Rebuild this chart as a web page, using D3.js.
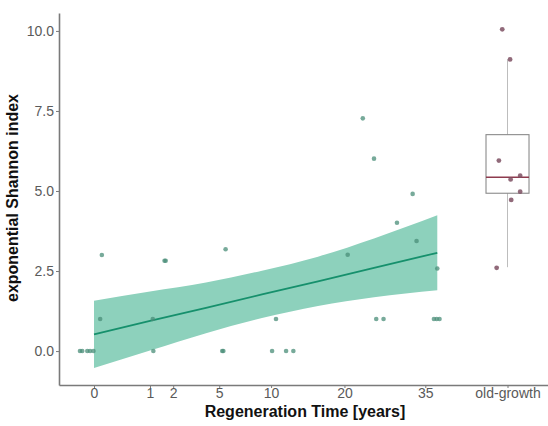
<!DOCTYPE html>
<html lang="en">
  <head>
    <meta charset="UTF-8" />
    <title>Shannon index vs regeneration time</title>
    <script src="https://d3js.org/d3.v7.min.js"></script>
    <style>
      body {
        margin: 0;
        background: #fff;
      }
      svg {
        font-family: "Liberation Sans", Arial, sans-serif;
      }
      .axis path,
      .axis line {
        stroke: #7a7a7a;
      }
      .axis path {
        stroke-width: 1.6px;
      }
      .axis text {
        fill: #5a5a5a;
        font-size: 14px;
      }
      .title {
        font-weight: bold;
        font-size: 16px;
        fill: #111;
      }
    </style>
  </head>
  <body>
    <svg id="chart" width="548" height="426"></svg>
    <script>
      // x positions are on the sqrt(years) axis (points are jittered)
      const regenX = [
        -0.25, -0.21, -0.12, -0.07, -0.01, 0.14, 0.11, 1.05, 1.06, 1.26, 1.28,
        2.29, 2.31, 2.35, 3.18, 3.25, 3.43, 3.56, 4.53, 4.8, 5.0, 5.04, 5.17,
        5.41, 5.69, 5.76, 6.13, 6.07, 6.12, 6.17,
      ];
      const regenY = [
        0, 0, 0, 0, 0, 3.0, 1.0, 1.0, 0, 2.82, 2.82, 0, 0, 3.18, 0, 1.0, 0, 0,
        3.01, 7.27, 6.01, 1.0, 1.0, 4.01, 4.91, 3.44, 2.58, 1.0, 1.0, 1.0,
      ];

      // old-growth plots
      const oldX = [7.29, 7.43, 7.23, 7.61, 7.44, 7.61, 7.45, 7.19];
      const oldY = [10.05, 9.11, 5.95, 5.48, 5.36, 4.98, 4.72, 2.6];
      const oldPos = 7.384;
      const oldBox = { lower: 2.62, q1: 4.93, median: 5.43, q3: 6.76, upper: 9.11 };

      // fitted line and confidence band
      const fitX = [0, 1, 2, 3, 4, 5, 6.13];
      const fitY = [0.52, 0.94, 1.35, 1.77, 2.18, 2.6, 3.07];
      const fitLo = [-0.53, 0.02, 0.56, 1.03, 1.41, 1.68, 1.9];
      const fitHi = [1.57, 1.86, 2.14, 2.51, 2.95, 3.52, 4.24];

      const yearTicks = [0, 1, 2, 5, 10, 20, 35];
      const yTicks = [0, 2.5, 5, 7.5, 10];

      const svg = d3.select("#chart");
      const mLeft = 59,
        mRight = 548,
        mTop = 13,
        mBottom = 385;

      const x = d3.scaleLinear().domain([-0.625, 8.107]).range([mLeft, mRight]);
      const y = d3.scaleLinear().domain([-1.06, 10.56]).range([mBottom, mTop]);

      // band + line
      const band = fitX.map((d, i) => ({ x: d, lo: fitLo[i], hi: fitHi[i], y: fitY[i] }));
      svg
        .append("path")
        .datum(band)
        .attr("fill", "#8dd1bc")
        .attr(
          "d",
          d3
            .area()
            .curve(d3.curveMonotoneX)
            .x((d) => x(d.x))
            .y0((d) => y(d.lo))
            .y1((d) => y(d.hi))
        );
      svg
        .append("path")
        .datum(band)
        .attr("fill", "none")
        .attr("stroke", "#16906c")
        .attr("stroke-width", 1.8)
        .attr(
          "d",
          d3
            .line()
            .x((d) => x(d.x))
            .y((d) => y(d.y))
        );

      // boxplot
      const bw = 0.384;
      const box = svg.append("g");
      box
        .append("line")
        .attr("x1", x(oldPos))
        .attr("x2", x(oldPos))
        .attr("y1", y(oldBox.q3))
        .attr("y2", y(oldBox.upper))
        .attr("stroke", "#bdbdbd");
      box
        .append("line")
        .attr("x1", x(oldPos))
        .attr("x2", x(oldPos))
        .attr("y1", y(oldBox.q1))
        .attr("y2", y(oldBox.lower))
        .attr("stroke", "#bdbdbd");
      box
        .append("rect")
        .attr("x", x(oldPos - bw))
        .attr("width", x(oldPos + bw) - x(oldPos - bw))
        .attr("y", y(oldBox.q3))
        .attr("height", y(oldBox.q1) - y(oldBox.q3))
        .attr("fill", "none")
        .attr("stroke", "#8a8a8a")
        .attr("stroke-width", 1.1);
      box
        .append("line")
        .attr("x1", x(oldPos - bw))
        .attr("x2", x(oldPos + bw))
        .attr("y1", y(oldBox.median))
        .attr("y2", y(oldBox.median))
        .attr("stroke", "#8e3b4e")
        .attr("stroke-width", 1.3);

      // points
      svg
        .append("g")
        .selectAll("circle")
        .data(regenX)
        .join("circle")
        .attr("cx", (d) => x(d))
        .attr("cy", (d, i) => y(regenY[i]))
        .attr("r", 2.3)
        .attr("fill", "#4a8d78")
        .attr("opacity", 0.75);
      svg
        .append("g")
        .selectAll("circle")
        .data(oldX)
        .join("circle")
        .attr("cx", (d) => x(d))
        .attr("cy", (d, i) => y(oldY[i]))
        .attr("r", 2.4)
        .attr("fill", "#7e5063")
        .attr("opacity", 0.85);

      // axes
      const xTickVals = yearTicks.map((d) => Math.sqrt(d)).concat([oldPos]);
      const xLabels = yearTicks.map(String).concat(["old-growth"]);
      svg
        .append("g")
        .attr("class", "axis")
        .attr("transform", `translate(0,${mBottom})`)
        .call(
          d3
            .axisBottom(x)
            .tickValues(xTickVals)
            .tickFormat((d, i) => xLabels[i])
            .tickSize(3)
            .tickSizeOuter(0)
            .tickPadding(0.5)
        );
      svg
        .append("g")
        .attr("class", "axis")
        .attr("transform", `translate(${mLeft},0)`)
        .call(
          d3
            .axisLeft(y)
            .tickValues(yTicks)
            .tickFormat(d3.format(".1f"))
            .tickSize(3)
            .tickSizeOuter(0)
            .tickPadding(2)
        );

      svg
        .append("text")
        .attr("class", "title")
        .attr("x", 305)
        .attr("y", 417)
        .attr("text-anchor", "middle")
        .text("Regeneration Time [years]");
      svg
        .append("text")
        .attr("class", "title")
        .attr("transform", "translate(18,198) rotate(-90)")
        .attr("text-anchor", "middle")
        .text("exponential Shannon index");
    </script>
  </body>
</html>
